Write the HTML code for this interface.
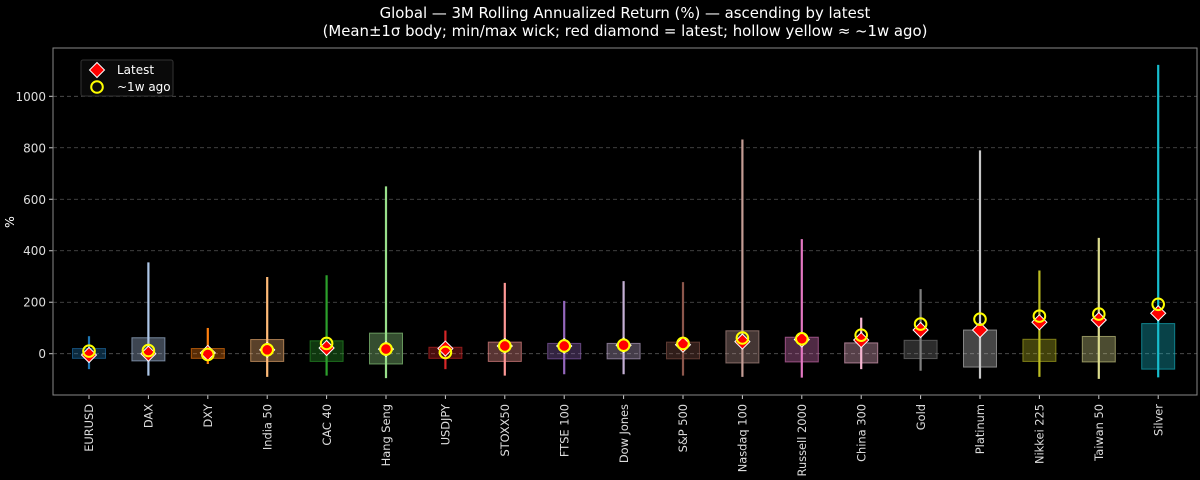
<!DOCTYPE html>
<html><head><meta charset="utf-8"><style>
html,body{margin:0;padding:0;background:#000;width:1200px;height:480px;overflow:hidden}
svg{display:block;font-family:"DejaVu Sans","Liberation Sans",sans-serif}
</style></head><body>
<svg id="s" width="1200" height="480" xmlns="http://www.w3.org/2000/svg">
<rect width="1200" height="480" fill="#000"/>
<text x="625" y="18" fill="#fff" font-size="14.9" text-anchor="middle">Global — 3M Rolling Annualized Return (%) — ascending by latest</text>
<text x="625" y="36" fill="#fff" font-size="14.9" text-anchor="middle">(Mean±1σ body; min/max wick; red diamond = latest; hollow yellow ≈ ~1w ago)</text>
<text transform="translate(14,222) rotate(-90)" fill="#fff" font-size="12.5" text-anchor="middle">%</text>
<g id="g"></g>
</svg>
<script>
var Y=function(v){return 353.7-v*0.2574};
var h='';
[0,200,400,600,800,1000].forEach(function(t){var y=Y(t);
h+='<line x1="53" x2="1197" y1="'+y+'" y2="'+y+'" stroke="#555" stroke-dasharray="4,3" stroke-width="0.8"/>';
h+='<line x1="49" x2="53" y1="'+y+'" y2="'+y+'" stroke="#ccc"/>';
h+='<text x="46" y="'+(y+4.5)+'" fill="#ddd" font-size="12" text-anchor="end">'+t+'</text>';});
var d=[
["EURUSD","#1f77b4",-60,68,-18,20,-5,10],
["DAX","#aec7e8",-85,355,-28,62,0,12],
["DXY","#ff7f0e",-40,100,-18,20,3,-3],
["India 50","#ffbb78",-90,298,-30,55,15,15],
["CAC 40","#2ca02c",-85,305,-30,50,22,40],
["Hang Seng","#98df8a",-95,650,-40,80,18,18],
["USDJPY","#d62728",-60,90,-18,25,20,5],
["STOXX50","#ff9896",-85,275,-30,45,30,30],
["FTSE 100","#9467bd",-80,205,-20,40,30,30],
["Dow Jones","#c5b0d5",-80,282,-20,40,33,33],
["S&amp;P 500","#8c564b",-85,278,-20,45,35,40],
["Nasdaq 100","#c49c94",-90,832,-36,89,47,61],
["Russell 2000","#e377c2",-93,445,-32,64,55,58],
["China 300","#f7b6d2",-60,140,-36,42,53,72],
["Gold","#7f7f7f",-66,251,-19,52,92,115],
["Platinum","#c7c7c7",-97,790,-52,92,92,134],
["Nikkei 225","#bcbd22",-90,323,-30,56,122,146],
["Taiwan 50","#dbdb8d",-98,450,-32,67,131,154],
["Silver","#17becf",-92,1122,-60,117,157,192]];
function dia(x,y){return '<path d="M'+x+' '+(y-7.5)+' L'+(x+7.5)+' '+y+' L'+x+' '+(y+7.5)+' L'+(x-7.5)+' '+y+' Z" fill="#f00" stroke="#fff" stroke-width="1"/>';}
function circ(x,y){return '<circle cx="'+x+'" cy="'+y+'" r="5.8" fill="none" stroke="#ff0" stroke-width="2"/>';}
d.forEach(function(r,i){var x=89+i*59.4;
h+='<rect x="'+(x-16.5)+'" y="'+Y(r[5])+'" width="33" height="'+(Y(r[4])-Y(r[5]))+'" fill="'+r[1]+'" fill-opacity="0.35" stroke="'+r[1]+'" stroke-opacity="0.6"/>';
h+='<line x1="'+x+'" x2="'+x+'" y1="'+Y(r[3])+'" y2="'+Y(r[2])+'" stroke="'+r[1]+'" stroke-width="2.2"/>';
h+=dia(x,Y(r[6]))+circ(x,Y(r[7]));
h+='<line x1="'+x+'" x2="'+x+'" y1="395" y2="399" stroke="#ccc"/>';
h+='<text transform="translate('+(x+4.2)+',404) rotate(-90)" fill="#ddd" font-size="11.4" text-anchor="end">'+r[0]+'</text>';});
h+='<rect x="53" y="48" width="1144" height="347" fill="none" stroke="#888" stroke-width="1"/>';
h+='<rect x="81" y="60" width="92" height="36" rx="2" fill="#0a0a0a" stroke="#333"/>';
h+=dia(97,70)+circ(97,87);
h+='<text x="117" y="74" fill="#fff" font-size="12">Latest</text><text x="117" y="91" fill="#fff" font-size="12">~1w ago</text>';
document.getElementById('g').innerHTML=h;
</script>
</body></html>
